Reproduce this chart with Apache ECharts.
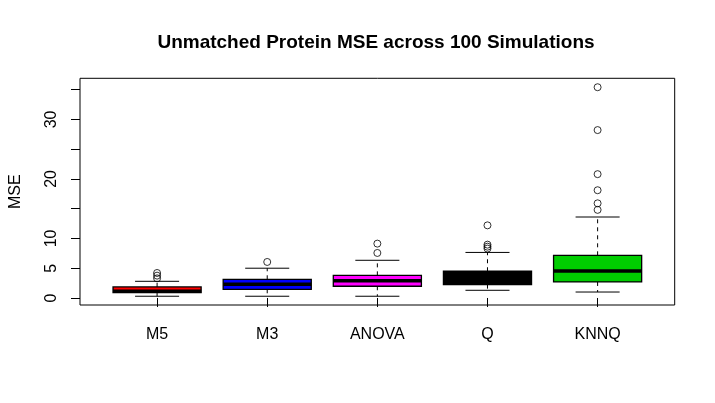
<!DOCTYPE html>
<html>
<head>
<meta charset="utf-8">
<script src="https://cdn.jsdelivr.net/npm/echarts@6/dist/echarts.min.js"></script>
<style>html,body{margin:0;padding:0;background:#fff}#c{width:715px;height:403px}</style>
</head>
<body>
<div id="c"></div>
<script>
var categories = ['M5', 'M3', 'ANOVA', 'Q', 'KNNQ'];
var lowerWhisker = [0.29, 0.29, 0.29, 1.29, 1.0];
var q1 = [0.92, 1.46, 1.97, 2.24, 2.69];
var median = [1.15, 2.3, 2.9, 3.3, 4.54];
var q3 = [1.85, 3.14, 3.8, 4.49, 7.17];
var upperWhisker = [2.8, 5.0, 6.33, 7.65, 13.6];
var outliersM5 = [4.2, 3.75, 3.3];
var outliersM3 = [6.05];
var outliersANOVA = [7.56, 9.13];
var outliersQ = [12.2, 8.96, 8.62, 8.3];
var outliersKNNQ = [14.8, 15.9, 18.1, 20.8, 28.2, 35.4];
var yLabelTicks = [0, 5, 10, 20, 30];
var yTicks = [0, 5, 10, 15, 20, 25, 30, 35];

var boxColors = ['#FF0000', '#0000FF', '#FF00FF', '#000000', '#00CD00'];
var outlierLists = [outliersM5, outliersM3, outliersANOVA, outliersQ, outliersKNNQ];

var boxData = categories.map(function (c, i) {
  return [i + 1, lowerWhisker[i], q1[i], median[i], q3[i], upperWhisker[i]];
});
var outlierData = [];
outlierLists.forEach(function (arr, i) {
  arr.forEach(function (v) { outlierData.push([i + 1, v]); });
});

var chart = echarts.init(document.getElementById('c'), null, {renderer: 'canvas'});
var fontFam = '"Liberation Sans", Arial, sans-serif';

chart.setOption({
  animation: false,
  backgroundColor: '#ffffff',
  title: {
    text: 'Unmatched Protein MSE across 100 Simulations',
    left: 371,
    top: 28,
    textAlign: 'center',
    textStyle: {fontFamily: fontFam, fontSize: 19, fontWeight: 'bold', color: '#000'}
  },
  grid: {
    left: 78.3, top: 78.3, right: 40.3, bottom: 98,
    show: true, borderColor: '#000', borderWidth: 1, backgroundColor: 'transparent'
  },
  xAxis: {
    type: 'value', min: 0.3, max: 5.7,
    splitLine: {show: false},
    axisLine: {show: false},
    axisTick: {show: true, length: 9, inside: false, customValues: [1, 2, 3, 4, 5], lineStyle: {color: '#000', width: 1}},
    axisLabel: {
      customValues: [1, 2, 3, 4, 5],
      margin: 22,
      fontFamily: fontFam, fontSize: 16, color: '#000',
      formatter: function (v) { return categories[Math.round(v) - 1] || ''; }
    }
  },
  yAxis: {
    type: 'value', min: -1.18, max: 36.9,
    name: 'MSE', nameLocation: 'middle', nameRotate: 90, nameGap: 56,
    nameTextStyle: {fontFamily: fontFam, fontSize: 16, color: '#000'},
    splitLine: {show: false},
    axisLine: {show: false},
    axisTick: {show: true, length: 9, customValues: yTicks, lineStyle: {color: '#000', width: 1}},
    axisLabel: {
      customValues: yLabelTicks, rotate: 90, margin: 20,
      fontFamily: fontFam, fontSize: 16, color: '#000'
    }
  },
  series: [
    {
      type: 'custom',
      data: boxData,
      clip: false,
      renderItem: function (params, api) {
        var i = params.dataIndex;
        var x = api.value(0);
        var lo = api.coord([x, api.value(1)]);
        var b1 = api.coord([x, api.value(2)]);
        var md = api.coord([x, api.value(3)]);
        var b3 = api.coord([x, api.value(4)]);
        var hi = api.coord([x, api.value(5)]);
        var left = api.coord([x - 0.4, 0])[0];
        var right = api.coord([x + 0.4, 0])[0];
        var sl = api.coord([x - 0.2, 0])[0];
        var sr = api.coord([x + 0.2, 0])[0];
        var cx = lo[0];
        var black = {stroke: '#000', lineWidth: 1, fill: null};
        return {
          type: 'group',
          children: [
            {type: 'line', shape: {x1: cx, y1: b1[1], x2: cx, y2: lo[1]}, style: {stroke: '#000', lineWidth: 1, lineDash: [4, 4]}},
            {type: 'line', shape: {x1: cx, y1: b3[1], x2: cx, y2: hi[1]}, style: {stroke: '#000', lineWidth: 1, lineDash: [4, 4]}},
            {type: 'line', shape: {x1: sl, y1: lo[1], x2: sr, y2: lo[1]}, style: black},
            {type: 'line', shape: {x1: sl, y1: hi[1], x2: sr, y2: hi[1]}, style: black},
            {type: 'rect', shape: {x: left, y: b3[1], width: right - left, height: b1[1] - b3[1]},
              style: {fill: boxColors[i], stroke: '#000', lineWidth: 1.3}},
            {type: 'line', shape: {x1: left, y1: md[1], x2: right, y2: md[1]}, style: {stroke: '#000', lineWidth: 3.5}}
          ]
        };
      }
    },
    {
      type: 'scatter',
      data: outlierData,
      symbol: 'circle',
      symbolSize: 7,
      itemStyle: {color: 'rgba(0,0,0,0)', borderColor: '#000', borderWidth: 1},
      emphasis: {disabled: true}
    }
  ]
});
</script>
</body>
</html>
